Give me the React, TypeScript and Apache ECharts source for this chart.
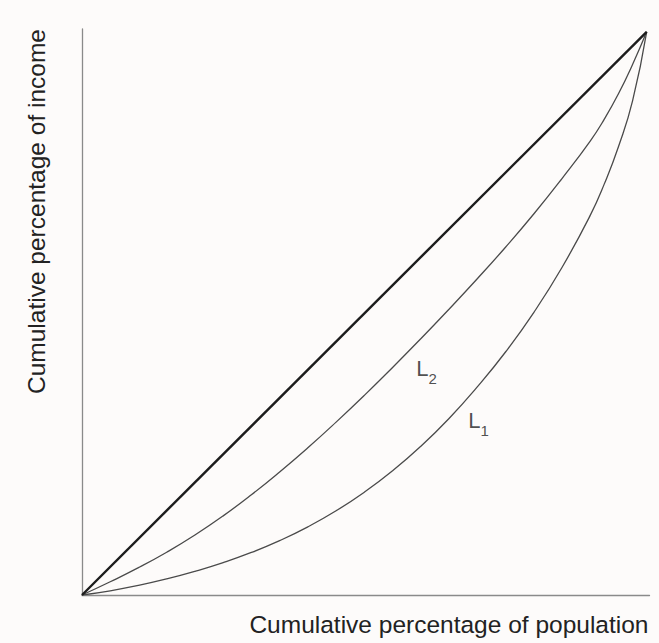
import React, { useEffect, useRef } from "react";
import * as echarts from "echarts";

// Cumulative % of population (x) vs cumulative % of income (y)
const equality: number[][] = [
  [0, 0],
  [100, 100],
];
const curveL2: number[][] = [
  [0, 0],
  [5, 2.35],
  [10, 4.85],
  [15, 7.6],
  [20, 10.65],
  [25, 14.05],
  [30, 17.8],
  [35, 21.85],
  [40, 26.15],
  [45, 30.7],
  [50, 35.45],
  [55, 40.4],
  [60, 45.5],
  [65, 50.75],
  [70, 56.15],
  [75, 61.75],
  [80, 67.65],
  [85, 73.95],
  [90, 80.6],
  [92.5, 84.5],
  [95, 89.0],
  [97.5, 94.2],
  [100, 100],
];
const curveL1: number[][] = [
  [0, 0],
  [5, 0.75],
  [10, 1.7],
  [15, 2.85],
  [20, 4.2],
  [25, 5.75],
  [30, 7.55],
  [35, 9.65],
  [40, 12.1],
  [45, 14.95],
  [50, 18.25],
  [55, 22.05],
  [60, 26.4],
  [65, 31.35],
  [70, 36.95],
  [75, 43.15],
  [80, 50.15],
  [85, 58.15],
  [90, 67.4],
  [92.5, 73.0],
  [95, 79.6],
  [97.5, 87.75],
  [100, 100],
];
const curveLabels = [
  { name: "L2", sub: "2", value: [59.2, 42.1] },
  { name: "L1", sub: "1", value: [68.4, 33.0] },
];
const xAxisName = "Cumulative percentage of population";
const yAxisName = "Cumulative percentage of income";

const FONT = "'Liberation Sans', Arial, Helvetica, sans-serif";

export default function App() {
  const ref = useRef<HTMLDivElement>(null);
  useEffect(() => {
    if (!ref.current) return;
    const chart = echarts.init(ref.current, undefined, { renderer: "svg" });
    const curveStyle = { color: "#4a4a4a", width: 1.3 };
    chart.setOption({
      animation: false,
      backgroundColor: "#fdfbfa",
      grid: { left: 82, right: 9.5, top: 29, bottom: 48, containLabel: false },
      xAxis: {
        type: "value",
        min: 0,
        max: 100.5,
        axisLine: { show: true, lineStyle: { color: "#8a8a8a", width: 1.3 } },
        axisTick: { show: false },
        axisLabel: { show: false },
        splitLine: { show: false },
        name: xAxisName,
        nameLocation: "end",
        nameGap: -1,
        nameTextStyle: {
          fontFamily: FONT,
          fontSize: 24.5,
          color: "#222",
          align: "right",
          verticalAlign: "top",
          padding: [17, 0, 0, 0],
        },
      },
      yAxis: {
        type: "value",
        min: 0,
        max: 100.5,
        axisLine: { show: true, lineStyle: { color: "#8a8a8a", width: 1.3 } },
        axisTick: { show: false },
        axisLabel: { show: false },
        splitLine: { show: false },
        name: yAxisName,
        nameLocation: "end",
        nameRotate: 90,
        nameGap: 0,
        nameTextStyle: {
          fontFamily: FONT,
          fontSize: 24.5,
          color: "#222",
          align: "right",
          verticalAlign: "bottom",
          padding: [0, 0, 33, 0],
        },
      },
      series: [
        {
          type: "line",
          data: curveL1,
          symbol: "none",
          smooth: 0.5,
          lineStyle: curveStyle,
          silent: true,
        },
        {
          type: "line",
          data: curveL2,
          symbol: "none",
          smooth: 0.5,
          lineStyle: curveStyle,
          silent: true,
        },
        {
          type: "line",
          data: equality,
          symbol: "none",
          lineStyle: { color: "#1c1c1c", width: 2.4 },
          silent: true,
        },
        {
          type: "scatter",
          symbolSize: 0,
          silent: true,
          data: curveLabels.map((d) => ({ name: d.name, value: d.value, sub: d.sub })),
          label: {
            show: true,
            position: [0, 0],
            align: "left",
            verticalAlign: "top",
            formatter: (p: any) => `{l|L}{s|${p.data.sub}}`,
            rich: {
              l: {
                fontFamily: FONT,
                fontSize: 22,
                lineHeight: 22,
                color: "#222",
                verticalAlign: "top",
              },
              s: {
                fontFamily: FONT,
                fontSize: 15,
                color: "#222",
                verticalAlign: "top",
                padding: [13.5, 0, 0, 0],
              },
            },
          },
        },
      ],
    });
    return () => chart.dispose();
  }, []);
  return (
    <div
      ref={ref}
      style={{
        position: "fixed",
        left: 0,
        top: 0,
        width: 659,
        height: 643,
        background: "#fdfbfa",
      }}
    />
  );
}
